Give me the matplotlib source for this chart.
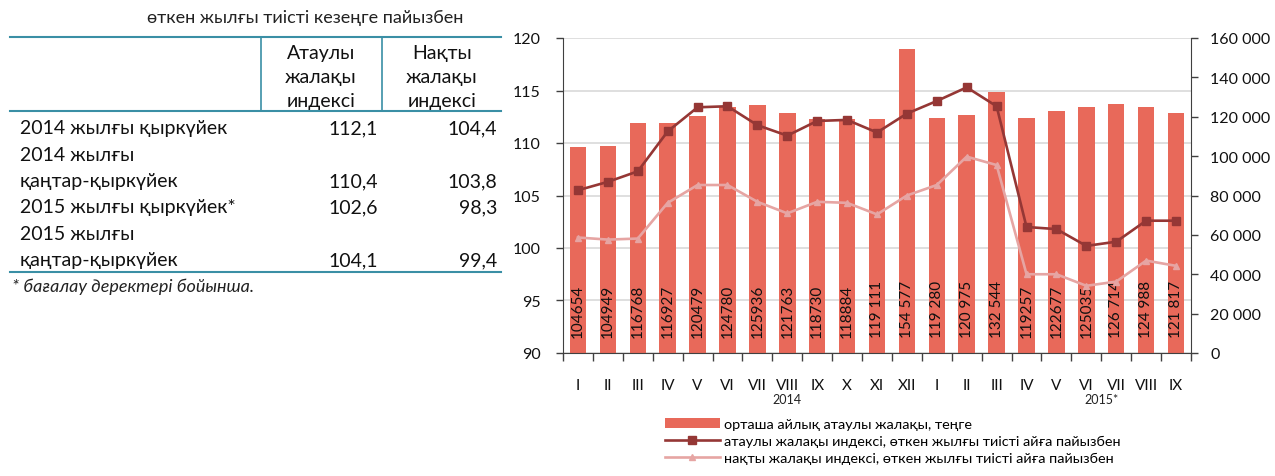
import numpy as np
import matplotlib.pyplot as plt
from matplotlib.transforms import blended_transform_factory

plt.rcParams['font.family'] = ['Lato', 'DejaVu Sans']

# chart data
months = ['I', 'II', 'III', 'IV', 'V', 'VI', 'VII', 'VIII', 'IX', 'X', 'XI', 'XII',
          'I', 'II', 'III', 'IV', 'V', 'VI', 'VII', 'VIII', 'IX']
wage = [104654, 104949, 116768, 116927, 120479, 124780, 125936, 121763, 118730, 118884,
        119111, 154577, 119280, 120975, 132544, 119257, 122677, 125035, 126714, 124988, 121817]
wage_labels = ['104654', '104949', '116768', '116927', '120479', '124780', '125936', '121763',
               '118730', '118884', '119 111', '154 577', '119 280', '120 975', '132 544',
               '119257', '122677', '125035', '126 714', '124 988', '121 817']
nominal_idx = [105.5, 106.3, 107.3, 111.1, 113.4, 113.5, 111.7, 110.7, 112.1, 112.2, 111.0,
               112.8, 114.0, 115.3, 113.5, 102.0, 101.8, 100.2, 100.6, 102.6, 102.6]
real_idx = [101.0, 100.8, 100.9, 104.3, 106.0, 106.0, 104.4, 103.3, 104.4, 104.3, 103.2,
            105.0, 106.0, 108.7, 107.9, 97.5, 97.5, 96.4, 96.8, 98.8, 98.3]
years = [('2014', 7), ('2015*', 17.5)]

# table data
table_title = 'өткен жылғы тиісті кезеңге пайызбен'
col_heads = ['Атаулы\nжалақы\nиндексі', 'Нақты\nжалақы\nиндексі']
row_labels = ['2014 жылғы қыркүйек', '2014 жылғы\nқаңтар-қыркүйек',
              '2015 жылғы қыркүйек*', '2015 жылғы\nқаңтар-қыркүйек']
tab_nominal = ['112,1', '110,4', '102,6', '104,1']
tab_real = ['104,4', '103,8', '98,3', '99,4']
footnote = '* бағалау деректері бойынша.'

bar_color = '#E8695A'
dark_red = '#953735'
light_red = '#E6A5A3'
teal = '#3A8FA5'
spine_c = '#404040'

W, H = 1275, 477
fig = plt.figure(figsize=(W / 100, H / 100), dpi=100)

# ---- table, drawn in pixel coords on a full-figure axes
tb = fig.add_axes([0, 0, 1, 1], zorder=0)
tb.set_xlim(0, W)
tb.set_ylim(H, 0)
tb.axis('off')

tb.text(305, 18, table_title, ha='center', va='center', fontsize=13, color='#222222')
tb.plot([10, 501], [38, 38], color=teal, lw=1.5)
tb.plot([10, 501], [112, 112], color=teal, lw=1.5)
tb.plot([10, 501], [273, 273], color=teal, lw=1.5)
tb.plot([261, 261], [38, 112], color=teal, lw=1.2)
tb.plot([382, 382], [38, 112], color=teal, lw=1.2)
for head, cx in zip(col_heads, [321, 442]):
    for k, ln in enumerate(head.split('\n')):
        tb.text(cx, 54 + k * 23.5, ln, ha='center', va='center', fontsize=14, color='#111111')

y = 129
step = 26.3
for lab, nv, rv in zip(row_labels, tab_nominal, tab_real):
    parts = lab.split('\n')
    for k, ln in enumerate(parts):
        tb.text(20, y + k * step, ln, ha='left', va='center', fontsize=14, color='#111111')
    yv = y + (len(parts) - 1) * step
    tb.text(378, yv, nv, ha='right', va='center', fontsize=14, color='#111111')
    tb.text(497, yv, rv, ha='right', va='center', fontsize=14, color='#111111')
    y += len(parts) * step
tb.text(12, 287, footnote, ha='left', va='center', fontsize=13, style='italic', color='#222222')

# ---- chart
pos = [563 / W, 1 - 354 / H, (1191 - 563) / W, (354 - 39) / H]
x = np.arange(len(months))

bg = fig.add_axes(pos, zorder=1)
bg.set_xlim(-0.5, len(months) - 0.5)
bg.set_ylim(90, 120)
bg.set_yticks(np.arange(90, 121, 5))
bg.grid(axis='y', color='#D9D9D9', lw=1.2)
for s in bg.spines.values():
    s.set_visible(False)

bars_ax = fig.add_axes(pos, zorder=2, sharex=bg)
bars_ax.patch.set_visible(False)
bars = bars_ax.bar(x, wage, width=0.55, color=bar_color, label='орташа айлық атаулы жалақы, теңге')
bars_ax.set_ylim(0, 160000)
bars_ax.set_yticks(np.arange(0, 160001, 20000))
bars_ax.set_yticklabels([f'{v:,}'.replace(',', ' ') for v in range(0, 160001, 20000)])
bars_ax.yaxis.tick_right()
bars_ax.tick_params(axis='y', direction='out', length=5, width=1, color=spine_c,
                    labelsize=11.5, pad=9, labelcolor='#111111')
for s in ['left', 'top', 'bottom']:
    bars_ax.spines[s].set_visible(False)
bars_ax.spines['right'].set_color(spine_c)

tr = blended_transform_factory(bars_ax.transData, bars_ax.transAxes)
for i, lab in enumerate(wage_labels):
    bars_ax.text(x[i], 0.05, lab, transform=tr, rotation=90, ha='center', va='bottom',
                 fontsize=11, color='#111111')

ax = fig.add_axes(pos, zorder=3, sharex=bg)
ax.patch.set_visible(False)
ln1, = ax.plot(x, nominal_idx, color=dark_red, lw=1.9, marker='s', ms=5.5,
               label='атаулы жалақы индексі, өткен жылғы тиісті айға пайызбен')
ln2, = ax.plot(x, real_idx, color=light_red, lw=1.9, marker='^', ms=5,
               label='нақты жалақы индексі, өткен жылғы тиісті айға пайызбен')
ax.set_ylim(90, 120)
ax.set_yticks(np.arange(90, 121, 5))
ax.tick_params(axis='y', direction='out', length=5, width=1, color=spine_c,
               labelsize=11.5, pad=11, labelcolor='#111111')
ax.set_xticks(np.arange(-0.5, len(months), 1))
ax.set_xticklabels([])
ax.set_xticks(x, minor=True)
ax.set_xticklabels(months, minor=True)
ax.tick_params(axis='x', which='major', direction='out', length=6, width=1, color=spine_c)
ax.tick_params(axis='x', which='minor', length=0, pad=18, labelsize=11, labelcolor='#111111')
for s in ['right', 'top']:
    ax.spines[s].set_visible(False)
ax.spines['left'].set_color(spine_c)
ax.spines['bottom'].set_color(spine_c)

# hide the shared tick labels on the lower layers
for a in (bg, bars_ax):
    a.tick_params(axis='x', which='both', bottom=False, labelbottom=False)
bg.tick_params(axis='y', left=False, labelleft=False)

ytr = blended_transform_factory(ax.transData, ax.transAxes)
for yr, xc in years:
    ax.text(xc, -0.147, yr, transform=ytr, ha='center', va='center', fontsize=9, color='#222222')

fig.legend(handles=[bars, ln1, ln2], loc='upper left', bbox_to_anchor=(665 / W, 1 - 419 / H),
           frameon=False, fontsize=10.4, handlelength=3.8, handletextpad=0.3,
           labelspacing=0.33, borderaxespad=0, borderpad=0)

fig.savefig('out.png', dpi=100)
